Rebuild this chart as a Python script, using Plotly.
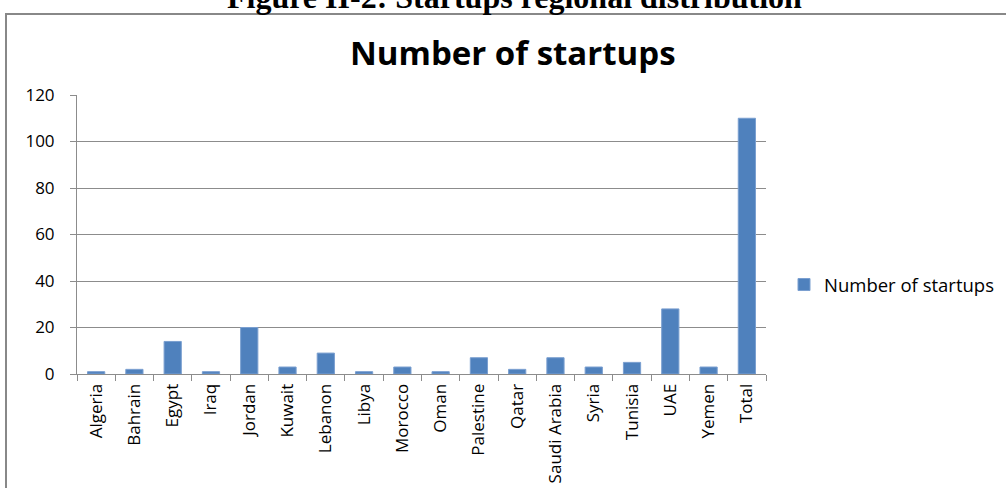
import plotly.graph_objects as go

countries = ["Algeria", "Bahrain", "Egypt", "Iraq", "Jordan", "Kuwait", "Lebanon", "Libya",
             "Morocco", "Oman", "Palestine", "Qatar", "Saudi Arabia", "Syria", "Tunisia",
             "UAE", "Yemen", "Total"]
startups = [1, 2, 14, 1, 20, 3, 9, 1, 3, 1, 7, 2, 7, 3, 5, 28, 3, 110]
y_ticks = [0, 20, 40, 60, 80, 100, 120]

W, H = 1006, 488
L, R, T, B = 77, 240, 95, 114
pw, ph = W - L - R, H - T - B

def px(x):
    return (x - L) / pw

def py(y):
    return (H - B - y) / ph

fig = go.Figure()
fig.add_trace(go.Bar(
    x=countries, y=startups, name="Number of startups",
    marker=dict(color="#4F81BD", line=dict(color="#7A9FD0", width=1)),
    width=0.45, showlegend=True,
))

grid = "#8C8C8C"
fig.update_layout(
    width=W, height=H,
    margin=dict(l=L, r=R, t=T, b=B, autoexpand=False),
    paper_bgcolor="white", plot_bgcolor="white",
    font=dict(family="Open Sans", size=16, color="#000000"),
    showlegend=True,
    legend=dict(x=px(784), y=py(285), xanchor="left", yanchor="middle",
                font=dict(family="Open Sans", size=18.5, color="#000000"),
                itemwidth=30, bgcolor="rgba(0,0,0,0)"),
    xaxis=dict(type="category", tickangle=-90, tickson="boundaries",
               ticks="outside", ticklen=6, tickcolor=grid,
               showline=True, linecolor=grid, linewidth=1,
               showgrid=False, tickfont=dict(size=17), range=[-0.5, 17.5],
               ticklabelstandoff=2),
    yaxis=dict(range=[0, 120], tickvals=y_ticks, ticks="outside", ticklen=6,
               tickcolor=grid, showline=True, linecolor=grid, linewidth=1,
               showgrid=True, gridcolor=grid, gridwidth=1, zeroline=False,
               tickfont=dict(size=17), ticklabelstandoff=12),
    annotations=[
        dict(text="<b>Number of startups</b>", x=px(513), y=py(52), xref="paper", yref="paper",
             xanchor="center", yanchor="middle", showarrow=False,
             font=dict(family="Open Sans", size=33, color="#000000")),
        dict(text="<b>Figure II-2: Startups regional distribution</b>", x=px(514), y=py(-3),
             xref="paper", yref="paper", xanchor="center", yanchor="middle", showarrow=False,
             font=dict(family="Liberation Serif", size=32, color="#000000")),
    ],
    shapes=[
        dict(type="rect", xref="paper", yref="paper",
             x0=px(6), x1=px(1015), y0=py(500), y1=py(14),
             line=dict(color="#888888", width=2), fillcolor="rgba(0,0,0,0)", layer="above"),
    ],
)

fig.write_html("out.html")
